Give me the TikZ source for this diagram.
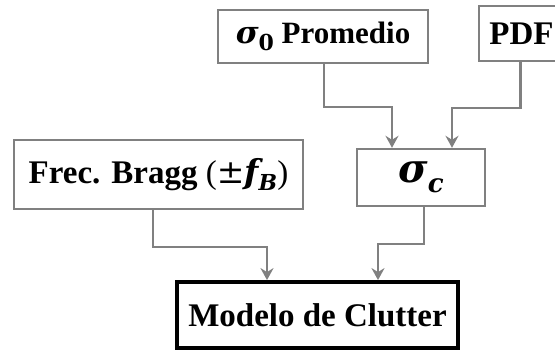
\documentclass[tikz,border=0pt]{standalone}
\usepackage{fontspec}
\setmainfont{Liberation Serif}
\newfontfamily\mfont{DejaVu Serif}
\usetikzlibrary{arrows.meta}
\definecolor{boxgray}{RGB}{128,128,128}
\tikzset{
  gbox/.style={draw=boxgray, line width=2.4pt, fill=white, inner sep=0pt, font=\fontsize{33}{38}\selectfont\bfseries},
  kbox/.style={draw=black, line width=3.8pt, fill=white, inner sep=0pt, font=\fontsize{33}{38}\selectfont\bfseries},
  arr/.style={draw=boxgray, line width=2.4pt, -{Stealth[length=12pt,width=13pt,inset=4pt]}, color=boxgray}
}
\newcommand{\sig}{{\mfont\itshape\bfseries σ}}
\begin{document}
\begin{tikzpicture}[x=1pt,y=1pt]
\useasboundingbox (0,0) rectangle (555,352);
\node[gbox, minimum width=210pt, minimum height=53pt] (s0) at (323,315.5)
  {\fontsize{31}{36}\selectfont\sig\raisebox{-0.2em}{\fontsize{22}{24}\selectfont\mfont\bfseries 0} Promedio};
\node[gbox, minimum width=85pt, minimum height=55pt] (pdf) at (521.5,318.5) {PDF};
\node[gbox, minimum width=128pt, minimum height=57pt] (sc) at (421,174.5)
  {\fontsize{40}{44}\selectfont\sig\raisebox{-0.25em}{\fontsize{26}{30}\selectfont\mfont\itshape\bfseries c}};
\node[gbox, minimum width=289pt, minimum height=69pt] (fb) at (158.5,177.5)
  {Frec. Bragg {\mdseries(}{\mfont\mdseries ±}{\mfont\itshape f}\raisebox{-0.22em}{\fontsize{22}{24}\selectfont\mfont\itshape\bfseries B}{\mdseries)}};
\node[kbox, minimum width=281pt, minimum height=66pt] (mc) at (317.5,37) {Modelo de Clutter};
\draw[arr] ([xshift=1pt]s0.south) -- ++(0,-43) -| ([xshift=-29pt]sc.north);
\draw[arr] ([xshift=-1pt]pdf.south) -- ++(0,-46) -| ([xshift=31pt]sc.north);
\draw[arr] ([xshift=3pt]sc.south) -- ++(0,-37) -| ([xshift=60.5pt]mc.north);
\draw[arr] ([xshift=-5.5pt]fb.south) -- ++(0,-37) -| ([xshift=-50.5pt]mc.north);
\end{tikzpicture}
\end{document}
